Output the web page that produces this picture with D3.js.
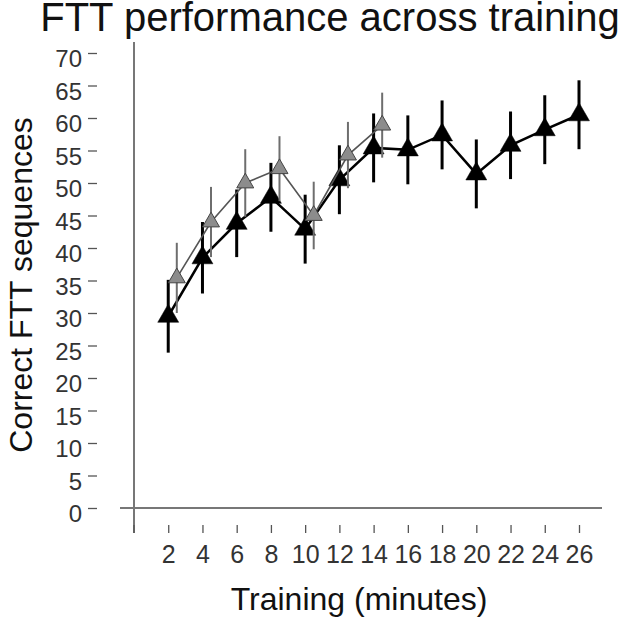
<!DOCTYPE html>
<html>
<head>
<meta charset="utf-8">
<script src="https://cdn.jsdelivr.net/npm/d3@7"></script>
<style>
  body { margin: 0; background: #fff; }
  text { font-family: "Liberation Sans", Arial, Helvetica, sans-serif; }
</style>
</head>
<body>
<svg id="chart"></svg>
<script>
var width = 633;
var height = 622;

// training time in minutes
var minutes = [2, 4, 6, 8, 10, 12, 14, 16, 18, 20, 22, 24, 26];
// black group: mean correct sequences and error
var blackMean = [29.5, 38.5, 43.8, 47.8, 42.9, 50.5, 55.4, 55.1, 57.4, 51.4, 55.8, 58.2, 60.5];
var blackErr  = [5.6, 5.5, 5.2, 5.3, 5.3, 5.3, 5.3, 5.3, 5.3, 5.3, 5.2, 5.3, 5.3];
// gray group (first 14 minutes)
var grayMinutes = [2, 4, 6, 8, 10, 12, 14];
var grayMean = [35.4, 44.0, 50.0, 52.2, 45.0, 54.3, 58.9];
var grayErr  = [5.4, 5.4, 5.2, 5.0, 5.2, 5.1, 5.0];

var xTicks = [2, 4, 6, 8, 10, 12, 14, 16, 18, 20, 22, 24, 26];
var yTicks = [0, 5, 10, 15, 20, 25, 30, 35, 40, 45, 50, 55, 60, 65, 70];

var xscale = d3.scaleLinear().domain([0, 26]).range([134, 579]);
var yscale = d3.scaleLinear().domain([0, 70]).range([508, 53]);
var grayShift = 0.5; // gray markers drawn slightly right

var svg = d3.select("#chart")
    .attr("width", width)
    .attr("height", height);

// axis lines
svg.append("line")
    .attr("x1", xscale(0)).attr("x2", xscale(0))
    .attr("y1", 42).attr("y2", 533)
    .attr("stroke", "#777").attr("stroke-width", 2);
svg.append("line")
    .attr("x1", 120).attr("x2", 602)
    .attr("y1", yscale(0)).attr("y2", yscale(0))
    .attr("stroke", "#777").attr("stroke-width", 2);

// y axis ticks, detached from the axis line
var yaxis = d3.axisLeft(yscale)
    .tickValues(yTicks)
    .tickSizeInner(9)
    .tickSizeOuter(0)
    .tickPadding(6);
var gy = svg.append("g")
    .attr("transform", "translate(97,0)")
    .call(yaxis);
gy.select(".domain").remove();
gy.selectAll(".tick line").attr("stroke", "#555").attr("stroke-width", 1.3);
gy.selectAll(".tick text")
    .attr("font-size", 24)
    .attr("fill", "#333")
    .attr("transform", "translate(0,6)");

// x axis ticks below the axis line
var xaxis = d3.axisBottom(xscale)
    .tickValues(xTicks)
    .tickSizeInner(8)
    .tickSizeOuter(0);
var gx = svg.append("g")
    .attr("transform", "translate(0,525)")
    .call(xaxis);
gx.select(".domain").remove();
gx.selectAll(".tick line").attr("stroke", "#555").attr("stroke-width", 1.3);
gx.selectAll(".tick text")
    .attr("font-size", 25)
    .attr("fill", "#333")
    .attr("y", 20);
// tick at 0 with no label
svg.append("line")
    .attr("x1", xscale(0)).attr("x2", xscale(0))
    .attr("y1", 525).attr("y2", 533)
    .attr("stroke", "#555").attr("stroke-width", 1.3);

var black = minutes.map(function(m, i){ return {x: m, y: blackMean[i], e: blackErr[i]}; });
var gray = grayMinutes.map(function(m, i){ return {x: m + grayShift, y: grayMean[i], e: grayErr[i]}; });

var line = d3.line()
    .x(function(d){ return xscale(d.x); })
    .y(function(d){ return yscale(d.y); });

function drawSeries(data, opt) {
    var g = svg.append("g");
    g.selectAll("line.err")
        .data(data)
        .enter().append("line")
        .attr("class", "err")
        .attr("x1", function(d){ return xscale(d.x); })
        .attr("x2", function(d){ return xscale(d.x); })
        .attr("y1", function(d){ return yscale(d.y - d.e); })
        .attr("y2", function(d){ return yscale(d.y + d.e); })
        .attr("stroke", opt.errColor)
        .attr("stroke-width", opt.errWidth);
    g.append("path")
        .datum(data)
        .attr("d", line)
        .attr("fill", "none")
        .attr("stroke", opt.lineColor)
        .attr("stroke-width", opt.lineWidth);
    g.selectAll("path.mark")
        .data(data)
        .enter().append("path")
        .attr("class", "mark")
        .attr("d", d3.symbol().type(d3.symbolTriangle).size(opt.size))
        .attr("transform", function(d){ return "translate(" + xscale(d.x) + "," + yscale(d.y) + ")"; })
        .attr("fill", opt.fill)
        .attr("stroke", opt.stroke)
        .attr("stroke-width", opt.strokeWidth);
}

drawSeries(black, {errColor: "#000", errWidth: 3, lineColor: "#000", lineWidth: 2.5,
    size: 190, fill: "#000", stroke: "#000", strokeWidth: 0.5});
drawSeries(gray, {errColor: "#6e6e6e", errWidth: 2, lineColor: "#555", lineWidth: 1.6,
    size: 125, fill: "#8c8c8c", stroke: "#444", strokeWidth: 1});

// title and axis labels
svg.append("text")
    .attr("x", 330).attr("y", 31)
    .attr("text-anchor", "middle")
    .attr("font-size", 40)
    .attr("fill", "#111")
    .text("FTT performance across training");
svg.append("text")
    .attr("x", 359).attr("y", 610)
    .attr("text-anchor", "middle")
    .attr("font-size", 32)
    .attr("fill", "#111")
    .text("Training (minutes)");
svg.append("text")
    .attr("transform", "translate(32,285) rotate(-90)")
    .attr("text-anchor", "middle")
    .attr("font-size", 32)
    .attr("fill", "#111")
    .text("Correct FTT sequences");
</script>
</body>
</html>
